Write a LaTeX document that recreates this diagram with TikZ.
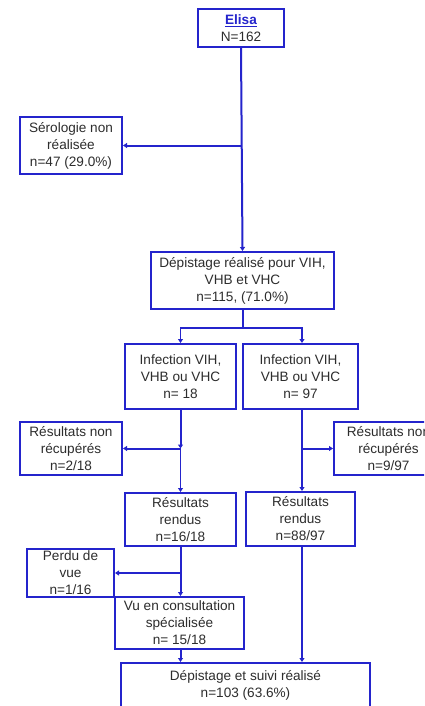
\documentclass[tikz,border=0pt]{standalone}
\usepackage{fontspec}
\setmainfont{Liberation Sans}
\usetikzlibrary{arrows.meta,calc}
\definecolor{bx}{RGB}{36,36,204}
\definecolor{tx}{RGB}{45,45,45}
\begin{document}
\begin{tikzpicture}[x=1pt,y=-1pt,
  box/.style={draw=bx,line width=2pt,fill=white,inner sep=0pt,align=center,text=tx,
    font=\fontsize{13.6}{17}\selectfont},
  conn/.style={draw=bx,line width=2pt},
  thin/.style={draw=bx,line width=1.3pt},
  arr/.style={-{Triangle[length=4pt,width=5pt]}}]
\clip (0,0) rectangle (424,706);
\fill[white] (0,0) rectangle (424,706);
% boxes
\node[box,minimum width=86pt,minimum height=38pt] (elisa) at (241,28)
  {\textcolor{bx}{\underline{\textbf{Elisa}}}\\N=162};
\node[box,minimum width=102pt,minimum height=57pt] (sero) at (71,145.5)
  {Sérologie non\\réalisée\\n=47 (29.0\%)};
\node[box,minimum width=183pt,minimum height=57pt] (dep) at (242.5,280.5)
  {Dépistage réalisé pour VIH,\\VHB et VHC\\n=115, (71.0\%)};
\node[box,minimum width=111pt,minimum height=65pt] (infl) at (180.5,376.5)
  {Infection VIH,\\VHB ou VHC\\n= 18};
\node[box,minimum width=115pt,minimum height=65pt] (infr) at (300.5,376.5)
  {Infection VIH,\\VHB ou VHC\\n= 97};
\node[box,minimum width=102pt,minimum height=53pt] (rnrl) at (71,448.5)
  {Résultats non\\récupérés\\n=2/18};
\node[box,minimum width=109pt,minimum height=53pt] (rnrr) at (388.5,448.5)
  {Résultats non\\récupérés\\n=9/97};
\node[box,minimum width=111pt,minimum height=53pt] (rrl) at (180.5,519.5)
  {Résultats\\rendus\\n=16/18};
\node[box,minimum width=109pt,minimum height=54pt] (rrr) at (300.5,519)
  {Résultats\\rendus\\n=88/97};
\node[box,minimum width=87pt,minimum height=48pt] (perdu) at (70.5,573)
  {Perdu de\\vue\\n=1/16};
\node[box,minimum width=129pt,minimum height=52pt] (vu) at (179.5,623)
  {Vu en consultation\\spécialisée\\n= 15/18};
\node[box,minimum width=249pt,minimum height=50pt,anchor=north] (fin) at (245.5,662)
  {};
\node[align=center,text=tx,font=\fontsize{13.6}{17}\selectfont,inner sep=0pt,anchor=north] (fintxt) at (245.5,670)
  {Dépistage et suivi réalisé\\n=103 (63.6\%)};
% connectors
\coordinate (j1) at (elisa.south |- sero.east);
\draw[conn,arr] (elisa.south) -- (dep.north);
\draw[conn,arr] (j1) -- (sero.east);
\coordinate (j2) at ($(dep.south)+(0,18)$);
\draw[conn] (dep.south) -- (j2);
\draw[thin,arr] (j2) -| (infl.north);
\draw[thin,arr] (j2) -| ([xshift=1.5pt]infr.north);
\coordinate (j3) at (infl.south |- rnrl.east);
\draw[conn,arr] (infl.south) -- (j3);
\draw[thin,arr] (j3) -- (rrl.north);
\draw[conn,arr] (j3) -- (rnrl.east);
\coordinate (j4) at ([xshift=1.5pt]infr.south |- rnrr.west);
\draw[conn,arr] ([xshift=1.5pt]infr.south) -- ([xshift=1.5pt]rrr.north);
\draw[conn,arr] (j4) -- (rnrr.west);
\coordinate (j5) at (rrl.south |- perdu.east);
\draw[conn,arr] (rrl.south) -- (rrl.south |- vu.north);
\draw[conn,arr] (j5) -- (perdu.east);
\draw[conn,arr] (rrl.south |- vu.south) -- (rrl.south |- fin.north);
\draw[conn,arr] ([xshift=1.5pt]rrr.south) -- ([xshift=1.5pt]rrr.south |- fin.north);
\end{tikzpicture}
\end{document}
